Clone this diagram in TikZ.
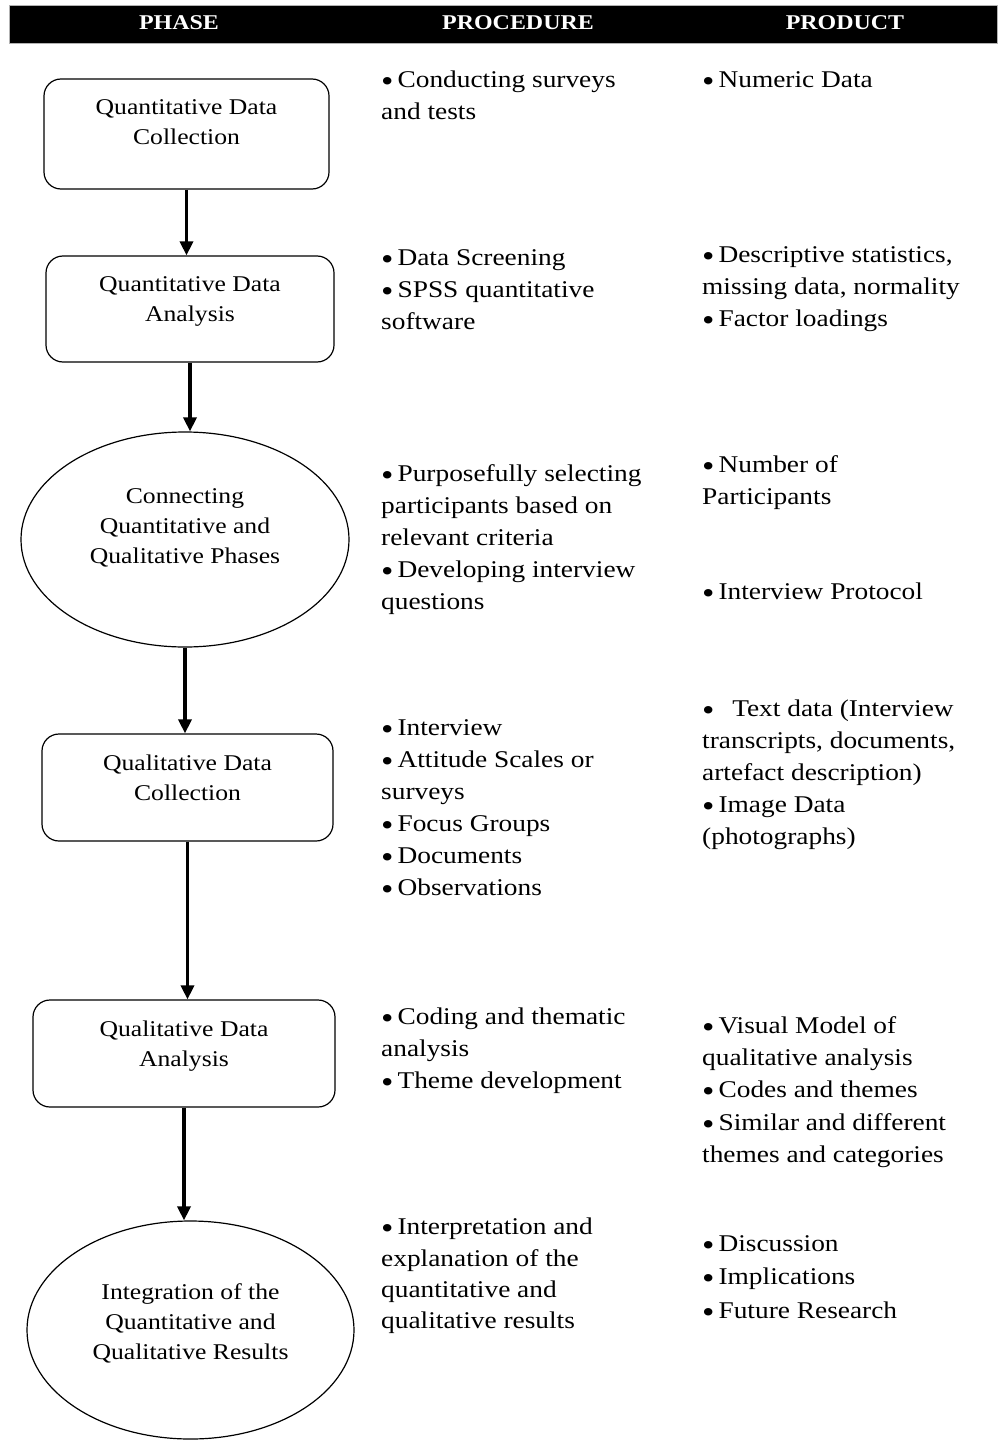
\documentclass[tikz,border=0pt]{standalone}
\usepackage{fontspec}
\setmainfont{Liberation Serif}[FakeStretch=1.14]
\usetikzlibrary{shapes.geometric,arrows.meta}
% bullet of a list item: a larger dot, lowered onto the text's middle
\newcommand{\bul}{\raisebox{-4pt}{\fontsize{31}{31}\selectfont\char"2022}\hspace{4pt}}
\begin{document}
\begin{tikzpicture}[x=1pt,y=-1pt,
  phasebox/.style={draw, line width=1.2pt, rounded corners=17pt, inner sep=0pt},
  phaseoval/.style={draw, ellipse, line width=1.2pt, inner sep=0pt},
  phasetext/.style={align=center, inner sep=0pt, font=\fontsize{22.5}{30}\selectfont},
  coltext/.style={anchor=north west, align=left, inner sep=0pt, font=\fontsize{24}{32}\selectfont},
  headtext/.style={text=white, inner sep=0pt, font=\fontsize{21}{24}\selectfont\bfseries},
  flow/.style={line width=3.4pt, -{Triangle[width=13pt,length=14pt]}}
]
\useasboundingbox (0,0) rectangle (998,1442);

% header bar
\node[fill=black, draw=gray!60, line width=0.8pt, minimum width=988, minimum height=38, inner sep=0pt] (bar) at (503,24) {};
\node[headtext] (hphase) at (179,23) {PHASE};
\node[headtext] (hproc) at (518,23) {PROCEDURE};
\node[headtext] (hprod) at (845,23) {PRODUCT};

% phase column
\node[phasebox, minimum width=285, minimum height=110] (b1) at (186.5,134) {};
\node[phasetext, yshift=10.5pt] (t1) at (b1.center) {\strut Quantitative Data\\\strut Collection};

\node[phasebox, minimum width=288, minimum height=106] (b2) at (190,309) {};
\node[phasetext, yshift=8.5pt] (t2) at (b2.center) {\strut Quantitative Data\\\strut Analysis};

\node[phaseoval, minimum width=328, minimum height=215] (e1) at (185,539.5) {};
\node[phasetext, yshift=12pt] (t3) at (e1.center) {\strut Connecting\\\strut Quantitative and\\\strut Qualitative Phases};

\node[phasebox, minimum width=291, minimum height=107] (b4) at (187.5,787.5) {};
\node[phasetext, yshift=8pt] (t4) at (b4.center) {\strut Qualitative Data\\\strut Collection};

\node[phasebox, minimum width=302, minimum height=107] (b5) at (184,1053.5) {};
\node[phasetext, yshift=8pt] (t5) at (b5.center) {\strut Qualitative Data\\\strut Analysis};

\node[phaseoval, minimum width=327, minimum height=218] (e2) at (190.5,1330) {};
\node[phasetext, yshift=6.5pt] (t6) at (e2.center) {\strut Integration of the\\\strut Quantitative and\\\strut Qualitative Results};

% connectors
\draw[flow] (b1.south) -- (b1.south |- b2.north);
\draw[flow] (b2.south) -- (b2.south |- e1.north);
\draw[flow] (e1.south) -- (e1.south |- b4.north);
\draw[flow] (b4.south) -- (b4.south |- b5.north);
\draw[flow] (b5.south) -- (b5.south |- e2.north);

% procedure column
\node[coltext] (p1) at (381,64.6) {\strut\bul Conducting surveys\\\strut and tests};
\node[coltext] (p2) at (381,242.6) {\strut\bul Data Screening\\\strut\bul SPSS quantitative\\\strut software};
\node[coltext] (p3) at (381,458.6) {\strut\bul Purposefully selecting\\\strut participants based on\\\strut relevant criteria\\\strut\bul Developing interview\\\strut questions};
\node[coltext] (p4) at (381,712.6) {\strut\bul Interview\\\strut\bul Attitude Scales or\\\strut surveys\\\strut\bul Focus Groups\\\strut\bul Documents\\\strut\bul Observations};
\node[coltext] (p5) at (381,1001.6) {\strut\bul Coding and thematic\\\strut analysis\\\strut\bul Theme development};
\node[coltext, font=\fontsize{24}{31.3}\selectfont] (p6) at (381,1212.6) {\strut\bul Interpretation and\\\strut explanation of the\\\strut quantitative and\\\strut qualitative results};

% product column
\node[coltext] (r1) at (702,64.6) {\strut\bul Numeric Data};
\node[coltext] (r2) at (702,239.6) {\strut\bul Descriptive statistics,\\\strut missing data, normality\\\strut\bul Factor loadings};
\node[coltext] (r3) at (702,449.6) {\strut\bul Number of\\\strut Participants};
\node[coltext] (r4) at (702,576.6) {\strut\bul Interview Protocol};
\node[coltext] (r5) at (702,693.6) {\strut\bul\ \ Text data (Interview\\\strut transcripts, documents,\\\strut artefact description)\\\strut\bul Image Data\\\strut (photographs)};
\node[coltext, font=\fontsize{24}{32.25}\selectfont] (r6) at (702,1010.6) {\strut\bul Visual Model of\\\strut qualitative analysis\\\strut\bul Codes and themes\\\strut\bul Similar and different\\\strut themes and categories};
\node[coltext, font=\fontsize{24}{33.5}\selectfont] (r7) at (702,1227.6) {\strut\bul Discussion\\\strut\bul Implications\\\strut\bul Future Research};
\end{tikzpicture}
\end{document}
